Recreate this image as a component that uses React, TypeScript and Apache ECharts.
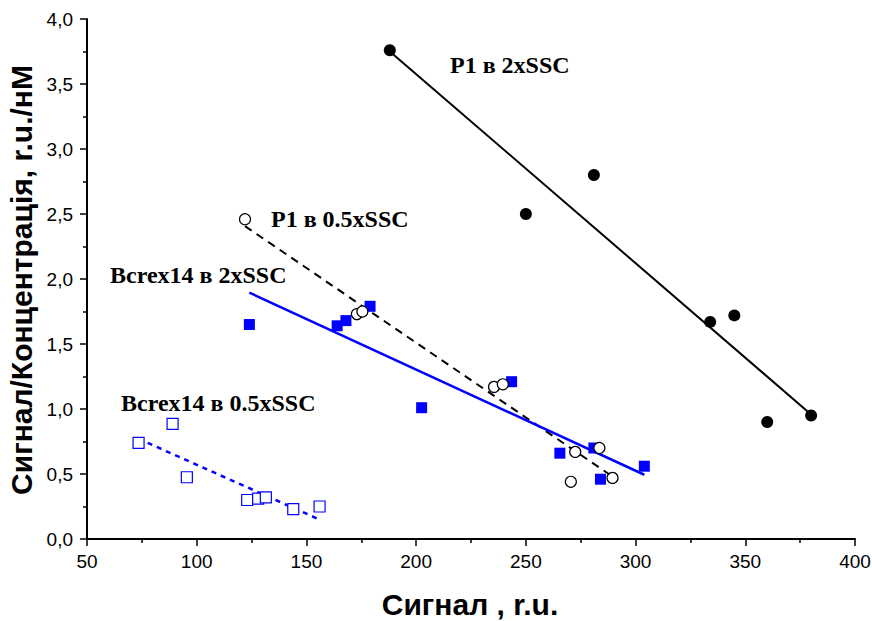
import React, { useEffect, useRef } from "react";
import * as echarts from "echarts";

// P1 в 2xSSC (filled black circles)
const p1TwoX = [188, 250, 281, 334, 345, 360, 380];
const p1TwoY = [3.76, 2.5, 2.8, 1.67, 1.72, 0.9, 0.95];
// P1 в 0.5xSSC (open black circles)
const p1HalfX = [122, 173, 175.5, 235.5, 239.5, 272.5, 283.5, 270.5, 289.5];
const p1HalfY = [2.46, 1.73, 1.75, 1.17, 1.19, 0.67, 0.7, 0.44, 0.47];
// Bcrex14 в 2xSSC (filled blue squares)
const bcTwoX = [124, 164, 168, 179, 202.5, 243.5, 265.5, 281, 284, 304];
const bcTwoY = [1.65, 1.64, 1.68, 1.79, 1.01, 1.21, 0.66, 0.7, 0.46, 0.56];
// Bcrex14 в 0.5xSSC (open blue squares)
const bcHalfX = [73.5, 89, 95.5, 123, 128, 131.5, 144, 156];
const bcHalfY = [0.74, 0.885, 0.475, 0.3, 0.31, 0.32, 0.23, 0.25];

const seriesLabels = ["P1 в 2xSSC", "P1 в 0.5xSSC", "Bcrex14 в 2xSSC", "Bcrex14 в 0.5xSSC"];
const xTitle = "Сигнал , r.u.";
const yTitle = "Сигнал/Концентрація, r.u./нМ";

function zip(xs: number[], ys: number[]) {
  return xs.map((x, i) => [x, ys[i]]);
}

// least-squares fit line spanning the data's x range
function fitLine(xs: number[], ys: number[]) {
  const n = xs.length;
  const mx = xs.reduce((a, b) => a + b, 0) / n;
  const my = ys.reduce((a, b) => a + b, 0) / n;
  let sxy = 0;
  let sxx = 0;
  for (let i = 0; i < n; i++) {
    sxy += (xs[i] - mx) * (ys[i] - my);
    sxx += (xs[i] - mx) * (xs[i] - mx);
  }
  const b = sxy / sxx;
  const a = my - b * mx;
  const x0 = Math.min(...xs);
  const x1 = Math.max(...xs);
  return [
    [x0, a + b * x0],
    [x1, a + b * x1],
  ];
}

const BLUE = "#0000ff";
const BLACK = "#000000";
const LABEL_FONT = "'Liberation Serif', 'Times New Roman', serif";
const AXIS_FONT = "'Liberation Sans', Arial, sans-serif";

export default function App() {
  const ref = useRef<HTMLDivElement>(null);

  useEffect(() => {
    if (!ref.current) return;
    const chart = echarts.init(ref.current, undefined, { renderer: "svg" });

    const lineSeries = (data: number[][], color: string, type: any, width: number) => ({
      type: "line",
      data,
      showSymbol: false,
      symbol: "none",
      silent: true,
      z: 1,
      lineStyle: { color, width, type, opacity: 1 },
    });

    const labelText = (text: string, x: number, y: number) => ({
      type: "text",
      x,
      y,
      style: {
        text,
        fill: BLACK,
        font: `bold 24px ${LABEL_FONT}`,
        align: "left",
        verticalAlign: "middle",
      },
    });

    chart.setOption({
      animation: false,
      backgroundColor: "#ffffff",
      grid: {
        left: 87,
        right: 17,
        top: 19,
        bottom: 82,
        containLabel: false,
        outerBoundsMode: "none",
      },
      xAxis: {
        type: "value",
        min: 50,
        max: 400,
        interval: 50,
        axisLine: { show: true, onZero: false, lineStyle: { color: BLACK, width: 2 } },
        axisTick: { show: true, length: 7, lineStyle: { color: BLACK, width: 1.5 } },
        minorTick: { show: true, splitNumber: 2, length: 4, lineStyle: { color: BLACK, width: 1.5 } },
        splitLine: { show: false },
        axisLabel: {
          color: BLACK,
          fontSize: 19,
          fontFamily: AXIS_FONT,
          margin: 13,
        },
      },
      yAxis: {
        type: "value",
        min: 0,
        max: 4,
        interval: 0.5,
        axisLine: { show: true, onZero: false, lineStyle: { color: BLACK, width: 2 } },
        axisTick: { show: true, length: 7, lineStyle: { color: BLACK, width: 1.5 } },
        minorTick: { show: true, splitNumber: 2, length: 4, lineStyle: { color: BLACK, width: 1.5 } },
        splitLine: { show: false },
        axisLabel: {
          color: BLACK,
          fontSize: 19,
          fontFamily: AXIS_FONT,
          margin: 14,
          formatter: (v: number) => v.toFixed(1).replace(".", ","),
        },
      },
      series: [
        lineSeries(fitLine(p1TwoX, p1TwoY), BLACK, "solid", 2),
        lineSeries(fitLine(p1HalfX, p1HalfY), BLACK, [8, 6], 2),
        lineSeries(fitLine(bcTwoX, bcTwoY), BLUE, "solid", 2.5),
        lineSeries(fitLine(bcHalfX, bcHalfY), BLUE, [5, 5], 2.5),
        {
          name: seriesLabels[2],
          type: "scatter",
          data: zip(bcTwoX, bcTwoY),
          symbol: "rect",
          symbolSize: 11,
          z: 3,
          itemStyle: { color: BLUE, borderWidth: 0, opacity: 1 },
        },
        {
          name: seriesLabels[3],
          type: "scatter",
          data: zip(bcHalfX, bcHalfY),
          symbol: "rect",
          symbolSize: 11,
          z: 3,
          itemStyle: { color: "#ffffff", borderColor: BLUE, borderWidth: 1.2, opacity: 1 },
        },
        {
          name: seriesLabels[0],
          type: "scatter",
          data: zip(p1TwoX, p1TwoY),
          symbol: "circle",
          symbolSize: 12,
          z: 4,
          itemStyle: { color: BLACK, borderWidth: 0, opacity: 1 },
        },
        {
          name: seriesLabels[1],
          type: "scatter",
          data: zip(p1HalfX, p1HalfY),
          symbol: "circle",
          symbolSize: 11,
          z: 4,
          itemStyle: { color: "#ffffff", borderColor: BLACK, borderWidth: 1.2, opacity: 1 },
        },
      ],
      graphic: [
        labelText(seriesLabels[0], 450, 65),
        labelText(seriesLabels[1], 271, 219),
        labelText(seriesLabels[2], 110, 275),
        labelText(seriesLabels[3], 121, 403),
        {
          type: "text",
          x: 470,
          y: 604,
          style: {
            text: xTitle,
            fill: BLACK,
            font: `bold 30px ${AXIS_FONT}`,
            align: "center",
            verticalAlign: "middle",
          },
        },
        {
          type: "text",
          x: 21,
          y: 280,
          rotation: Math.PI / 2,
          style: {
            text: yTitle,
            fill: BLACK,
            font: `bold 30px ${AXIS_FONT}`,
            align: "center",
            verticalAlign: "middle",
          },
        },
      ],
    });

    return () => chart.dispose();
  }, []);

  return (
    <div
      ref={ref}
      style={{ position: "fixed", left: 0, top: 0, width: 872, height: 621, background: "#fff" }}
    />
  );
}
